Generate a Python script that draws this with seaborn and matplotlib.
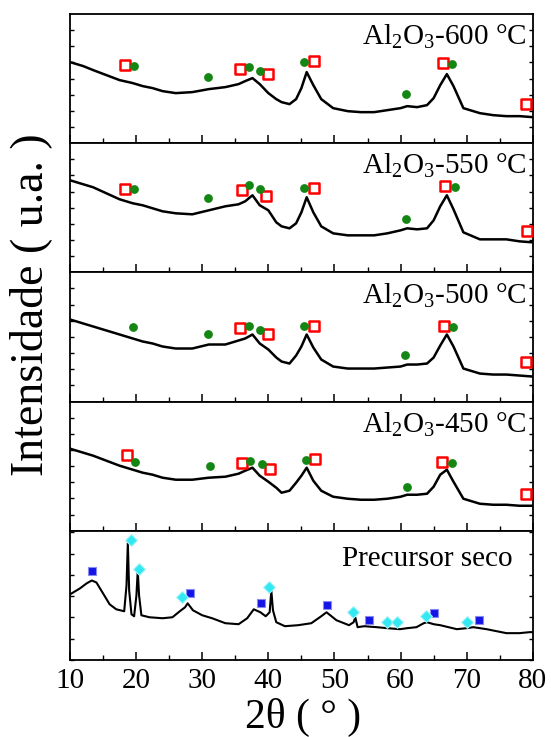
import matplotlib.pyplot as plt
from matplotlib.ticker import MultipleLocator
import seaborn as sns

# Style: serif fonts like the original figure
sns.set_style("ticks")
plt.rcParams['font.family'] = ['Liberation Serif', 'DejaVu Serif']
plt.rcParams['mathtext.fontset'] = 'custom'
plt.rcParams['mathtext.rm'] = 'Liberation Serif'
plt.rcParams['mathtext.it'] = 'Liberation Serif:italic'
for key in ['text.color', 'axes.labelcolor', 'xtick.color', 'ytick.color', 'axes.edgecolor']:
    plt.rcParams[key] = 'black'

# Diffractograms (2theta in degrees, intensity in arbitrary units)
two_theta = [10, 11, 12, 13.5, 15.5, 17.5, 19.5, 21, 22.5, 24, 26, 28.5,
             31, 33.5, 35.5, 36.5, 37.6, 38.7, 40, 41.2, 42, 43.2,
             44.2, 45, 45.8, 46.8, 48, 49.8, 52, 54, 56, 58,
             60, 61, 62.5, 64, 65, 66, 67, 68, 69.5, 72,
             74, 76, 78, 80]
int_600 = [81, 79, 77, 73, 68, 63, 60, 57, 55, 52, 50, 51,
           54, 56, 59, 62, 65, 59, 50, 44, 41, 39,
           44, 55, 71, 58, 44, 35, 32, 31, 31, 33,
           35, 37, 36, 38, 45, 58, 69, 57, 35, 30,
           28, 27, 27, 26]
int_550 = [92, 90, 88, 85, 79, 73, 69, 67, 64, 61, 59, 58,
           62, 66, 68, 71, 77, 67, 62, 50, 46, 44,
           49, 60, 75, 60, 46, 39, 37, 37, 37, 39,
           42, 44, 43, 44, 52, 66, 77, 63, 40, 33,
           33, 33, 31, 30]
int_500 = [82, 80, 78, 75, 71, 67, 63, 60, 58, 55, 53, 53,
           57, 57, 61, 63, 67, 58, 52, 44, 40, 38,
           46, 55, 67, 54, 42, 35, 33, 33, 33, 34,
           35, 37, 37, 38, 44, 56, 67, 55, 33, 28,
           27, 27, 26, 25]
int_450 = [82, 80, 78, 75, 70, 65, 61, 58, 56, 53, 51, 51,
           53, 54, 57, 60, 63, 55, 49, 43, 38, 40,
           48, 55, 63, 50, 40, 34, 32, 31, 31, 32,
           34, 36, 36, 37, 44, 56, 61, 49, 32, 27,
           26, 26, 25, 25]

two_theta_prec = [10, 11.5, 12.5, 13.3, 14, 15, 16, 17, 18.2, 18.55,
                  18.75, 18.95, 19.3, 19.7, 20.05, 20.25, 20.45, 20.8, 22, 24,
                  25.5, 26.6, 27.4, 27.8, 28.6, 30, 31.5, 33.5, 35.5, 36.8,
                  37.8, 38.8, 39.6, 40.2, 40.45, 40.7, 41.2, 42.5, 44.5, 46.5,
                  48, 48.8, 50.3, 52.2, 52.9, 53.15, 53.5, 54.5, 56.4, 58,
                  59.9, 61, 62.4, 63.5, 64, 65, 66, 68.5, 70, 71,
                  72, 73, 74.5, 76, 78, 79.5, 80]
int_prec = [66, 72, 77, 80, 78, 67, 56, 51, 49, 75,
            118, 70, 46, 44, 65, 90, 65, 45, 43, 42,
            43, 49, 53, 57, 50, 45, 42, 37, 36, 42,
            51, 48, 44, 48, 70, 50, 38, 34, 35, 37,
            44, 48, 40, 35, 38, 43, 33, 34, 33, 32,
            31, 32, 33, 37, 38, 36, 35, 31, 32, 33,
            32, 31, 29, 27, 27, 28, 28]

# Phase markers (open red squares / green circles)
sq_600_x = [18.3, 35.7, 40.0, 46.9, 66.4, 78.9]
sq_600_y = [78, 74, 69, 82, 80, 39]
ci_600_x = [19.7, 30.8, 37.0, 38.7, 45.4, 60.8, 67.8]
ci_600_y = [77, 66, 76, 72, 81, 49, 79]
sq_550_x = [18.3, 36.0, 39.6, 46.9, 66.7, 79.1]
sq_550_y = [83, 82, 76, 84, 86, 41]
ci_550_x = [19.7, 30.8, 37.0, 38.7, 45.4, 60.8, 68.2]
ci_550_y = [83, 74, 87, 83, 84, 53, 85]
sq_500_x = [35.7, 40.0, 46.9, 66.5, 79.0]
sq_500_y = [73, 67, 75, 75, 40]
ci_500_x = [19.6, 30.8, 37.0, 38.7, 45.4, 60.7, 67.9]
ci_500_y = [74, 67, 75, 71, 75, 47, 74]
sq_450_x = [18.6, 36.0, 40.2, 47.1, 66.2, 79.0]
sq_450_y = [76, 68, 62, 72, 69, 37]
ci_450_x = [19.9, 31.2, 37.3, 39.0, 45.7, 61.0, 67.8]
ci_450_y = [69, 65, 70, 67, 71, 44, 68]

# Precursor markers (blue squares / cyan diamonds)
bs_prec_x = [13.3, 28.1, 38.9, 48.8, 55.2, 65.1, 71.8]
bs_prec_y = [90, 67, 57, 55, 40, 47, 40]
dm_prec_x = [19.2, 20.5, 27.0, 40.1, 52.8, 57.9, 59.5, 63.8, 70.0]
dm_prec_y = [121, 92, 63, 73, 48, 38, 38, 44, 38]

labels = [r"Al$_\mathregular{2}$O$_\mathregular{3}$-600 °C",
          r"Al$_\mathregular{2}$O$_\mathregular{3}$-550 °C",
          r"Al$_\mathregular{2}$O$_\mathregular{3}$-500 °C",
          r"Al$_\mathregular{2}$O$_\mathregular{3}$-450 °C",
          "Precursor seco"]

alumina = [
    (int_600, sq_600_x, sq_600_y, ci_600_x, ci_600_y),
    (int_550, sq_550_x, sq_550_y, ci_550_x, ci_550_y),
    (int_500, sq_500_x, sq_500_y, ci_500_x, ci_500_y),
    (int_450, sq_450_x, sq_450_y, ci_450_x, ci_450_y),
]

fig, axes = plt.subplots(5, 1, figsize=(5.51, 7.37), dpi=100, sharex=True)
fig.subplots_adjust(left=0.127, right=0.967, top=0.981, bottom=0.1045, hspace=0)

for ax, (yy, sqx, sqy, cix, ciy) in zip(axes[:4], alumina):
    sns.lineplot(x=two_theta, y=yy, ax=ax, color='black', lw=1.8,
                 sort=False, estimator=None)
    sns.scatterplot(x=sqx, y=sqy, ax=ax, marker='s', s=45, color='red',
                    facecolor='white', edgecolor='red', linewidth=1.8, zorder=5)
    sns.scatterplot(x=cix, y=ciy, ax=ax, marker='o', s=40, color='#138613',
                    edgecolor='#138613', linewidth=0, zorder=5)
    ax.set_ylim(0, 129)
    ax.yaxis.set_major_locator(MultipleLocator(16.15))

ax = axes[4]
sns.lineplot(x=two_theta_prec, y=int_prec, ax=ax, color='black', lw=1.5,
             sort=False, estimator=None)
sns.scatterplot(x=bs_prec_x, y=bs_prec_y, ax=ax, marker='s', s=32, color='#1414e6',
                edgecolor='#8a8af5', linewidth=0.8, zorder=5)
sns.scatterplot(x=dm_prec_x, y=dm_prec_y, ax=ax, marker='D', s=36, color='#33e8f2',
                edgecolor='#9af4f8', linewidth=0.8, zorder=5)
ax.set_ylim(0, 130)
ax.yaxis.set_major_locator(MultipleLocator(21.4))

for i, ax in enumerate(axes):
    ax.set_xlim(10, 80)
    ax.xaxis.set_major_locator(MultipleLocator(10))
    ax.xaxis.set_minor_locator(MultipleLocator(5))
    ax.tick_params(axis='x', which='major', direction='in', length=6, width=1.1,
                   top=False, labelsize=21, pad=6)
    ax.tick_params(axis='x', which='minor', direction='in', length=3.5, width=1.0, top=False)
    ax.tick_params(axis='y', which='major', direction='in', length=3, width=1.0,
                   left=True, right=True, labelleft=False)
    for sp in ax.spines.values():
        sp.set_visible(True)
        sp.set_linewidth(1.3)
    ax.set_xlabel("")
    ax.set_ylabel("")
    if i < 4:
        ax.text(0.987, 0.76, labels[i], transform=ax.transAxes, ha='right',
                va='baseline', fontsize=21)
    else:
        ax.text(0.957, 0.725, labels[i], transform=ax.transAxes, ha='right',
                va='baseline', fontsize=21)

fig.text(0.055, 0.586, "Intensidade ( u.a. )", rotation=90, ha='center',
         va='center', fontsize=33)
fig.text(0.55, 0.027, "2θ ( ° )", ha='center', va='center', fontsize=30)

plt.savefig("out.png", dpi=100)
plt.close()
